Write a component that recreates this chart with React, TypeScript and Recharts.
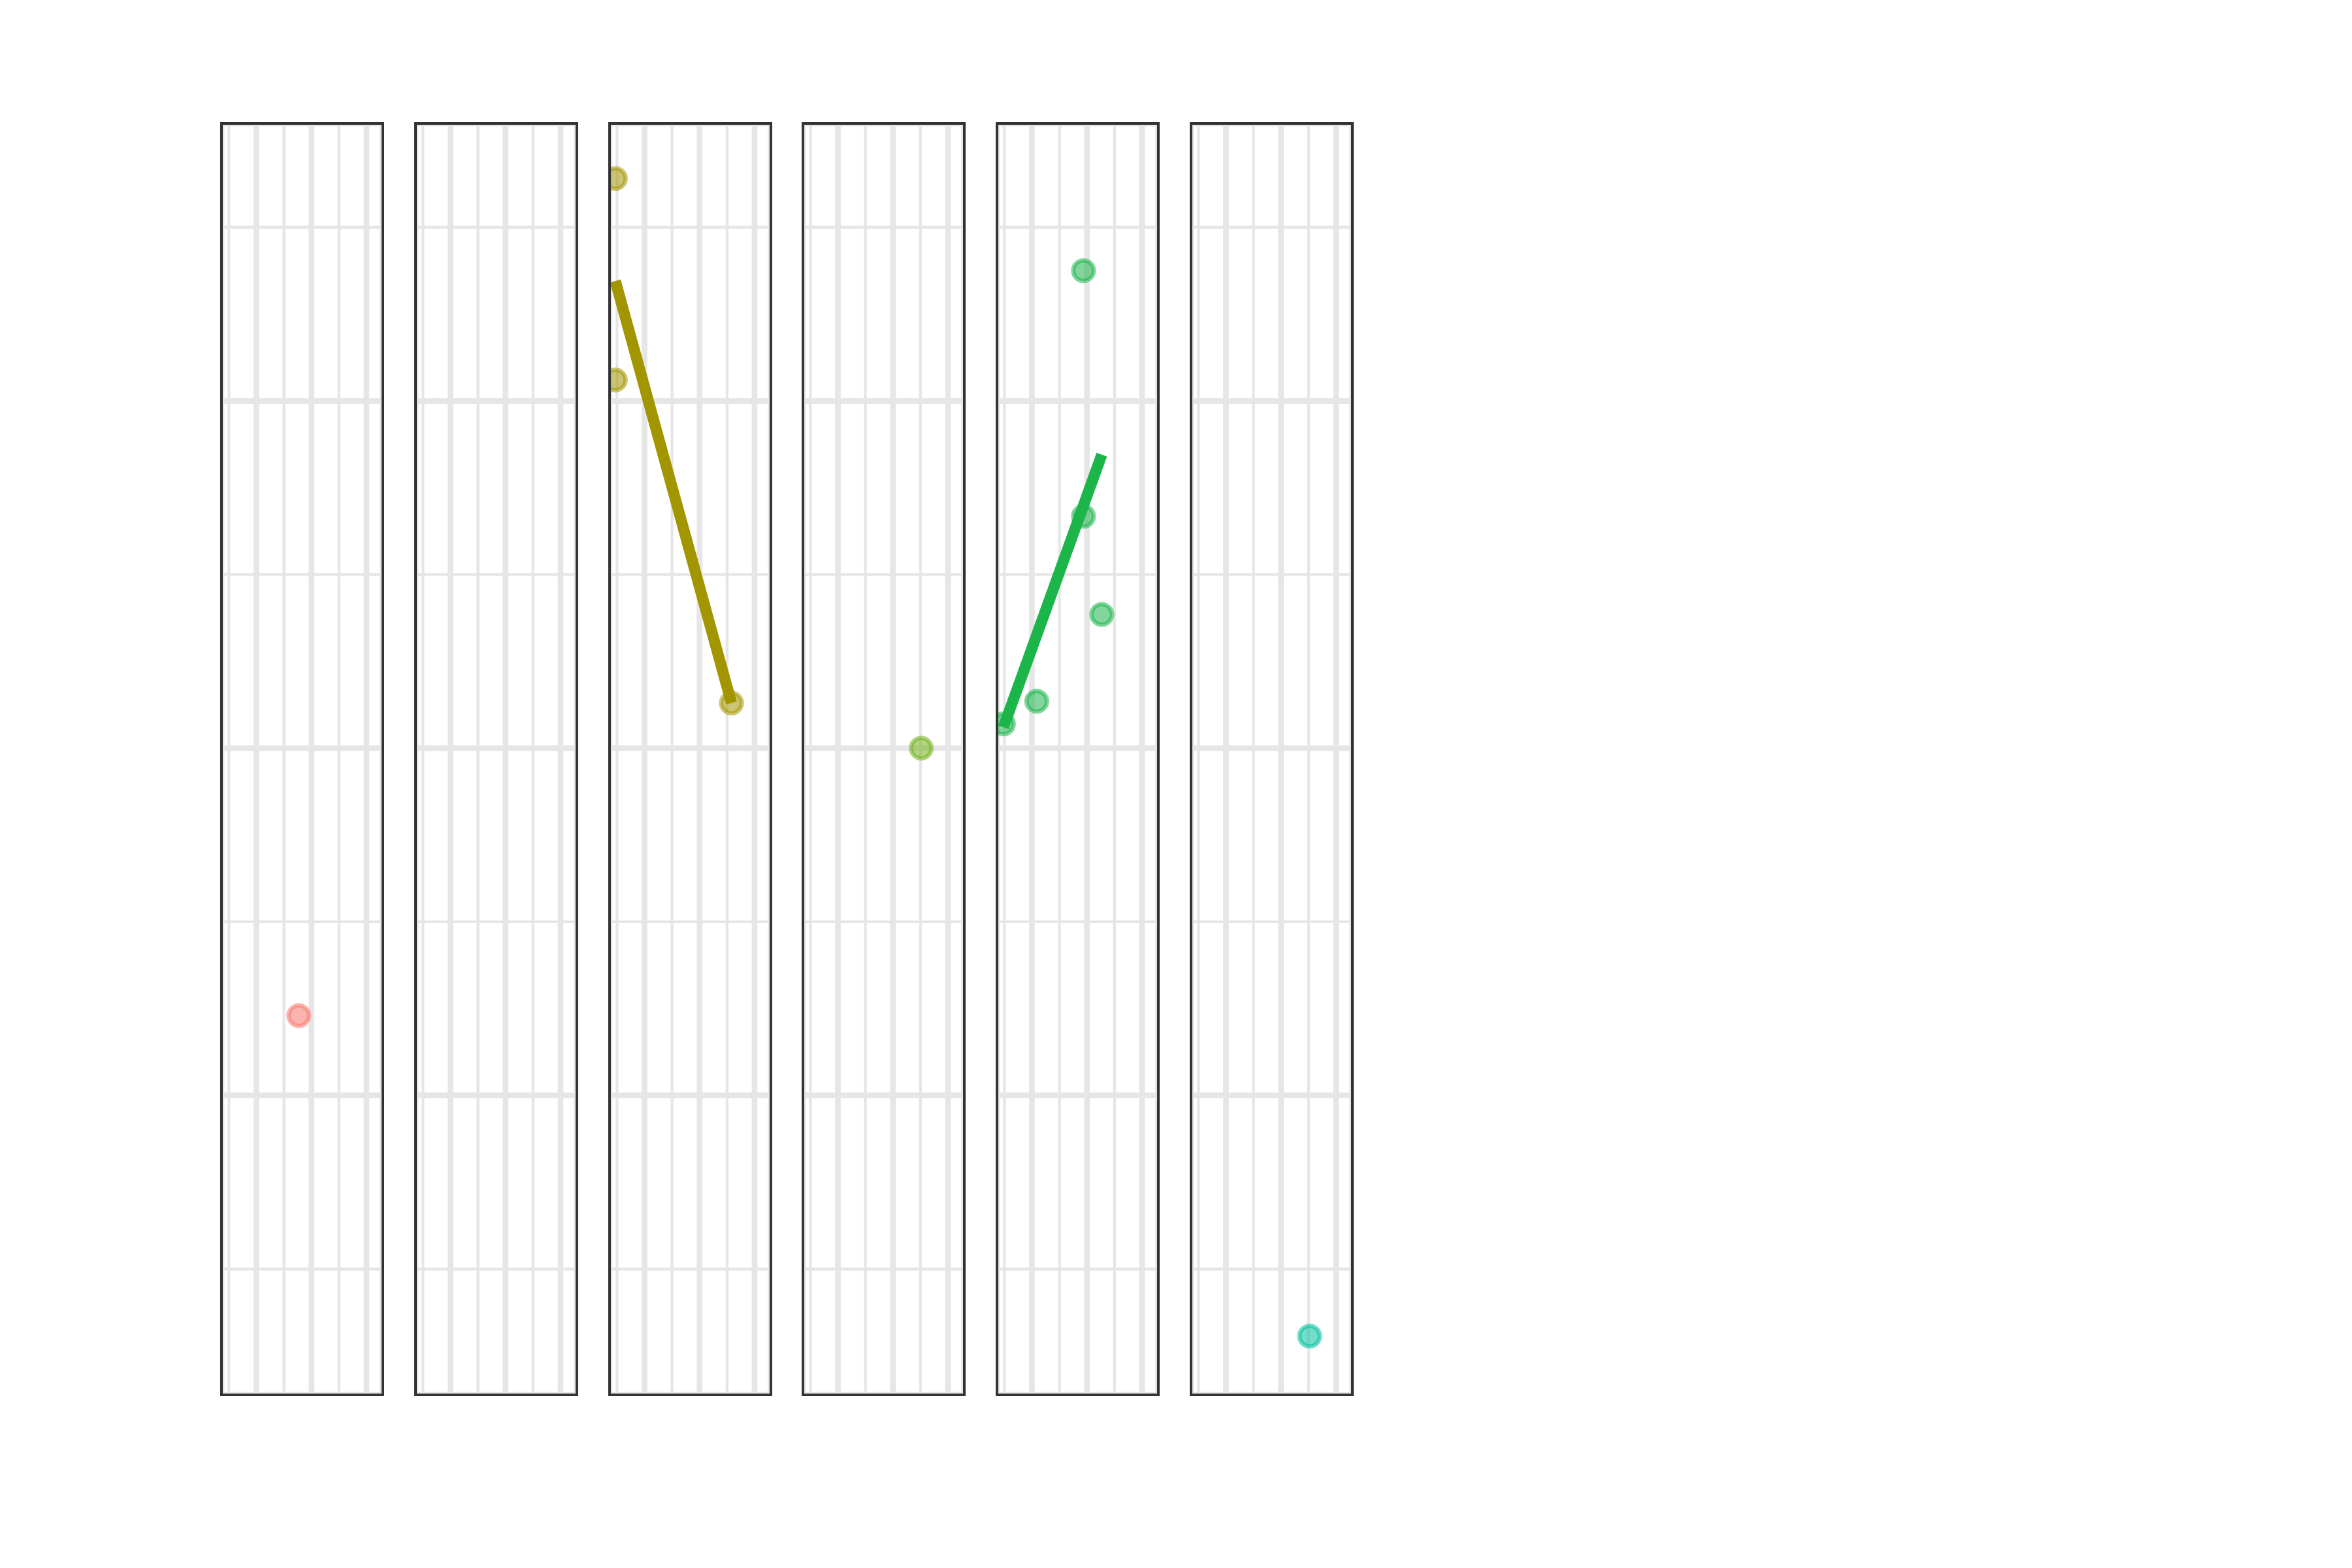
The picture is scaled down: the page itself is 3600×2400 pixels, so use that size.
import React from 'react';
import { ScatterChart, Scatter, XAxis, YAxis, CartesianGrid } from 'recharts';

interface Pt {
  x: number;
  y: number;
}

// shared scales across all facets
const xDomain: [number, number] = [0.73, 6.587];
const yDomain: [number, number] = [0.276, 7.597];
const xMajor = [2, 4, 6];
const xMinor = [1, 3, 5];
const yMajor = [2, 4, 6];
const yMinor = [1, 3, 5, 7];

const panelColors = ['#F8766D', '#DE8C00', '#A39500', '#72B01E', '#1BB54A', '#00C19F'];

const points1: Pt[] = [{ x: 3.54, y: 2.46 }];
const points2: Pt[] = [];
const points3: Pt[] = [
  { x: 0.94, y: 7.28 },
  { x: 0.94, y: 6.12 },
  { x: 5.16, y: 4.26 },
];
const points4: Pt[] = [{ x: 5.03, y: 4.0 }];
const points5: Pt[] = [
  { x: 0.964, y: 4.14 },
  { x: 2.175, y: 4.27 },
  { x: 3.873, y: 6.75 },
  { x: 3.873, y: 5.335 },
  { x: 4.538, y: 4.77 },
];
const points6: Pt[] = [{ x: 5.04, y: 0.614 }];

// fitted lines
const fit3: Pt[] = [
  { x: 0.94, y: 6.69 },
  { x: 5.16, y: 4.26 },
];
const fit5: Pt[] = [
  { x: 0.964, y: 4.12 },
  { x: 4.538, y: 5.69 },
];

const panelPoints = [points1, points2, points3, points4, points5, points6];
const panelFits: (Pt[] | null)[] = [null, null, fit3, null, fit5, null];

const W = 246.7;
const H = 1946;
const LEFT0 = 339.3;
const STEP = 296.7;
const TOP = 188.7;
const GRID = '#E6E6E6';

function Panel({ index }: { index: number }) {
  const color = panelColors[index];
  const pts = panelPoints[index];
  const fit = panelFits[index];
  const dot = (props: any) => (
    <circle
      cx={props.cx}
      cy={props.cy}
      r={15.7}
      fill={color}
      fillOpacity={0.55}
      stroke={color}
      strokeOpacity={0.55}
      strokeWidth={6.7}
    />
  );
  return (
    <div style={{ position: 'absolute', left: LEFT0 + index * STEP, top: TOP, width: W, height: H }}>
      <div style={{ width: W, height: H, overflow: 'hidden' }}>
        <ScatterChart width={W} height={H} margin={{ top: 0, right: 0, bottom: 0, left: 0 }}>
          <XAxis xAxisId="major" type="number" dataKey="x" domain={xDomain} ticks={xMajor} allowDataOverflow hide />
          <YAxis yAxisId="major" type="number" dataKey="y" domain={yDomain} ticks={yMajor} allowDataOverflow hide />
          <XAxis xAxisId="minor" type="number" dataKey="x" domain={xDomain} ticks={xMinor} allowDataOverflow hide />
          <YAxis yAxisId="minor" type="number" dataKey="y" domain={yDomain} ticks={yMinor} allowDataOverflow hide />
          <CartesianGrid xAxisId="minor" yAxisId="minor" stroke={GRID} strokeWidth={4.3} />
          <CartesianGrid xAxisId="major" yAxisId="major" stroke={GRID} strokeWidth={8.7} />
          <Scatter
            xAxisId="major"
            yAxisId="major"
            data={pts}
            shape={dot}
            isAnimationActive={false}
          />
          {fit && (
            <Scatter
              xAxisId="major"
              yAxisId="major"
              data={fit}
              line={{ stroke: color, strokeWidth: 17 }}
              lineType="joint"
              shape={() => <g />}
              isAnimationActive={false}
            />
          )}
        </ScatterChart>
      </div>
      <div
        style={{
          position: 'absolute',
          left: -2.15,
          top: -2.15,
          width: W + 4.3,
          height: H + 4.3,
          border: '4.3px solid #333333',
          boxSizing: 'border-box',
          pointerEvents: 'none',
        }}
      />
    </div>
  );
}

export default function App() {
  return (
    <div style={{ position: 'absolute', left: 0, top: 0, width: 3600, height: 2400, background: '#ffffff' }}>
      {panelColors.map((_, i) => (
        <Panel key={i} index={i} />
      ))}
    </div>
  );
}
